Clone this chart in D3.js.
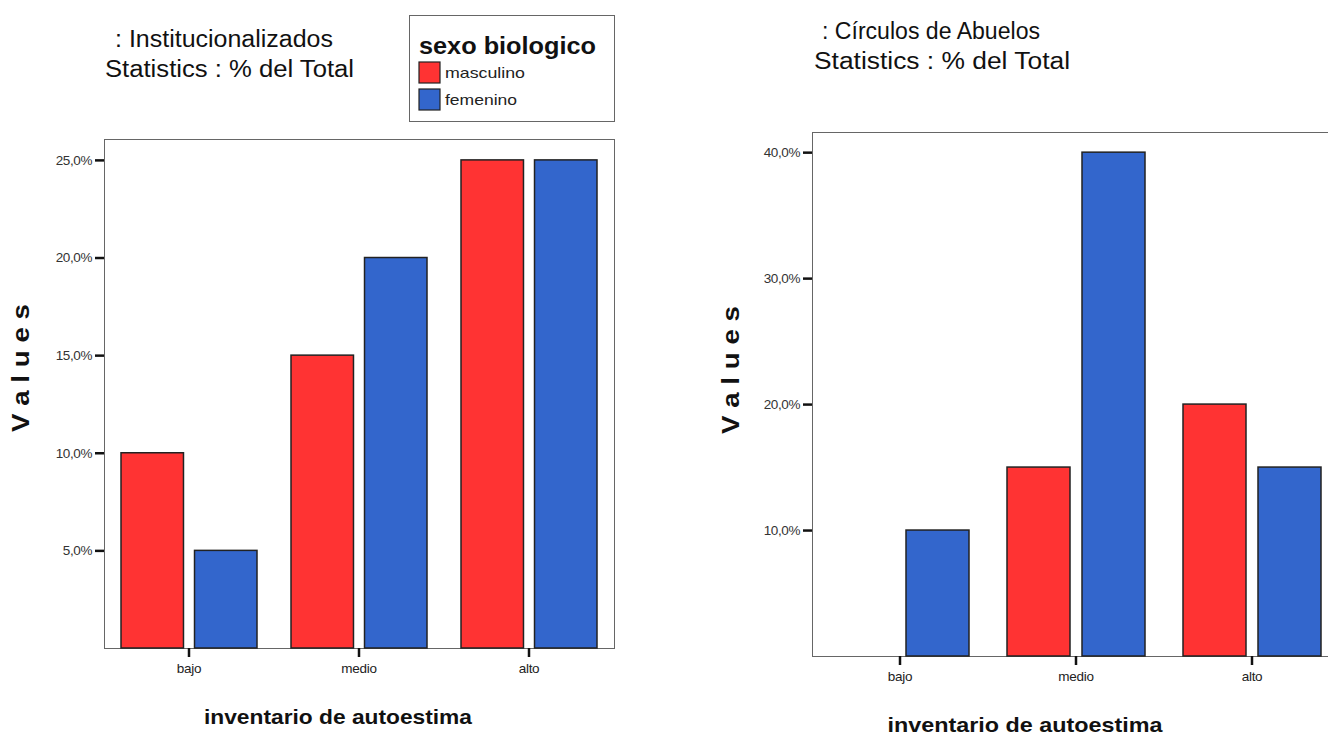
<!DOCTYPE html>
<html>
<head>
<meta charset="utf-8">
<script src="https://cdn.jsdelivr.net/npm/d3@7"></script>
<style>
  html, body { margin: 0; padding: 0; background: #ffffff; }
  svg { display: block; }
  text { font-family: "Liberation Sans", Arial, sans-serif; }
</style>
</head>
<body>
<svg id="chart" width="1328" height="735"></svg>
<script>
// Self-esteem inventory level by biological sex, % of total, two groups
const categories = ["bajo", "medio", "alto"];
const seriesNames = ["masculino", "femenino"];
const seriesColors = ["#ff3333", "#3366cc"];

const instMasculino = [10, 15, 25];
const instFemenino = [5, 20, 25];
const instTicks = [5, 10, 15, 20, 25];

const circMasculino = [0, 15, 20];
const circFemenino = [10, 40, 15];
const circTicks = [10, 20, 30, 40];

const legendTitle = "sexo biologico";
const xTitle = "inventario de autoestima";
const yTitle = "V a l u e s";
const subTitle = "Statistics : % del Total";

const svg = d3.select("#chart");
const fmt = v => d3.format(".1f")(v).replace(".", ",") + "%";

// text fitted to a fixed run length
function wideText(sel, x, y, str, size, len, bold, anchor) {
  return sel.append("text")
    .attr("x", x).attr("y", y)
    .attr("text-anchor", anchor || "start")
    .attr("textLength", len).attr("lengthAdjust", "spacingAndGlyphs")
    .style("font-size", size + "px")
    .style("font-weight", bold ? "bold" : "normal")
    .attr("fill", "#111")
    .text(str);
}

function drawPanel(opt) {
  const g = svg.append("g");
  const { left, right, top, bottom } = opt.box;

  const y = d3.scaleLinear().domain([0, opt.yMax]).range([bottom, top]);
  const x0 = d3.scaleBand().domain(categories).range([left, right]).padding(0);
  const x1 = d3.scaleBand().domain(seriesNames)
    .range([opt.inset, x0.step() - opt.inset]).paddingInner(opt.gap);

  // plot frame
  g.append("rect")
    .attr("x", left + 0.5).attr("y", top + 0.5)
    .attr("width", right - left).attr("height", bottom - top)
    .attr("fill", "#ffffff").attr("stroke", "#666").attr("stroke-width", 1);

  // bars
  const rows = categories.map((c, i) => ({ cat: c, vals: [opt.m[i], opt.f[i]] }));
  const grp = g.selectAll("g.cat").data(rows).join("g")
    .attr("transform", d => `translate(${x0(d.cat)},0)`);
  grp.selectAll("rect")
    .data(d => d.vals.map((v, j) => ({ key: seriesNames[j], v, j })).filter(e => e.v > 0))
    .join("rect")
    .attr("x", e => x1(e.key))
    .attr("y", e => y(e.v))
    .attr("width", x1.bandwidth())
    .attr("height", e => bottom - y(e.v))
    .attr("fill", e => seriesColors[e.j])
    .attr("stroke", "#222").attr("stroke-width", 1.5);

  // y axis
  const yAxis = d3.axisLeft(y).tickValues(opt.ticks).tickFormat(fmt).tickSize(9).tickPadding(3);
  const ya = g.append("g").attr("transform", `translate(${left},0)`).call(yAxis);
  ya.select(".domain").remove();
  ya.selectAll("line").attr("stroke", "#111").attr("stroke-width", 2.5);
  ya.selectAll("text").attr("fill", "#333").style("font-size", "13.5px")
    .style("letter-spacing", "-0.4px");

  // x axis
  const xAxis = d3.axisBottom(x0).tickSize(9).tickPadding(6);
  const xa = g.append("g").attr("transform", `translate(0,${bottom})`).call(xAxis);
  xa.select(".domain").remove();
  xa.selectAll("line").attr("stroke", "#111").attr("stroke-width", 2.5);
  xa.selectAll("text").attr("fill", "#222").style("font-size", "13.5px")
    .style("letter-spacing", "-0.3px");

  // axis titles
  wideText(g, opt.xTitlePos[0], opt.xTitlePos[1], xTitle, 21, opt.xTitleLen, true, "middle");
  const yt = g.append("g")
    .attr("transform", `translate(${opt.yTitlePos[0]},${opt.yTitlePos[1]}) rotate(-90)`);
  wideText(yt, 0, 0, yTitle, 23, 128, true, "middle");

  // panel titles
  wideText(g, opt.title1[0], opt.title1[1], opt.title, 23.5, opt.title1[2], false);
  wideText(g, opt.title2[0], opt.title2[1], subTitle, 23.5, opt.title2[2], false);
}

drawPanel({
  box: { left: 104, right: 614, top: 139, bottom: 648 },
  yMax: 26.07, ticks: instTicks, m: instMasculino, f: instFemenino,
  inset: 17, gap: 0.15,
  xTitlePos: [338, 724], xTitleLen: 268, yTitlePos: [29, 368],
  title: ": Institucionalizados", title1: [115, 47, 218], title2: [105, 77, 249]
});

drawPanel({
  box: { left: 812, right: 1340, top: 132, bottom: 656 },
  yMax: 41.6, ticks: circTicks, m: circMasculino, f: circFemenino,
  inset: 19, gap: 0.16,
  xTitlePos: [1025, 732], xTitleLen: 275, yTitlePos: [739, 370],
  title: ": Círculos de Abuelos", title1: [822, 39, 218], title2: [814, 69, 256]
});

// legend
const lg = svg.append("g");
lg.append("rect").attr("x", 409.5).attr("y", 15.5).attr("width", 205).attr("height", 106)
  .attr("fill", "#fff").attr("stroke", "#666").attr("stroke-width", 1);
wideText(lg, 419, 54, legendTitle, 24, 177, true);
const items = lg.selectAll("g.item").data(seriesNames).join("g")
  .attr("transform", (d, i) => `translate(419,${62 + i * 27})`);
items.append("rect").attr("width", 21).attr("height", 21)
  .attr("fill", (d, i) => seriesColors[i]).attr("stroke", "#222").attr("stroke-width", 1.2);
items.each(function (d) {
  wideText(d3.select(this), 26, 16, d, 14.5, d === "masculino" ? 80 : 72, false)
    .attr("fill", "#222");
});
</script>
</body>
</html>
